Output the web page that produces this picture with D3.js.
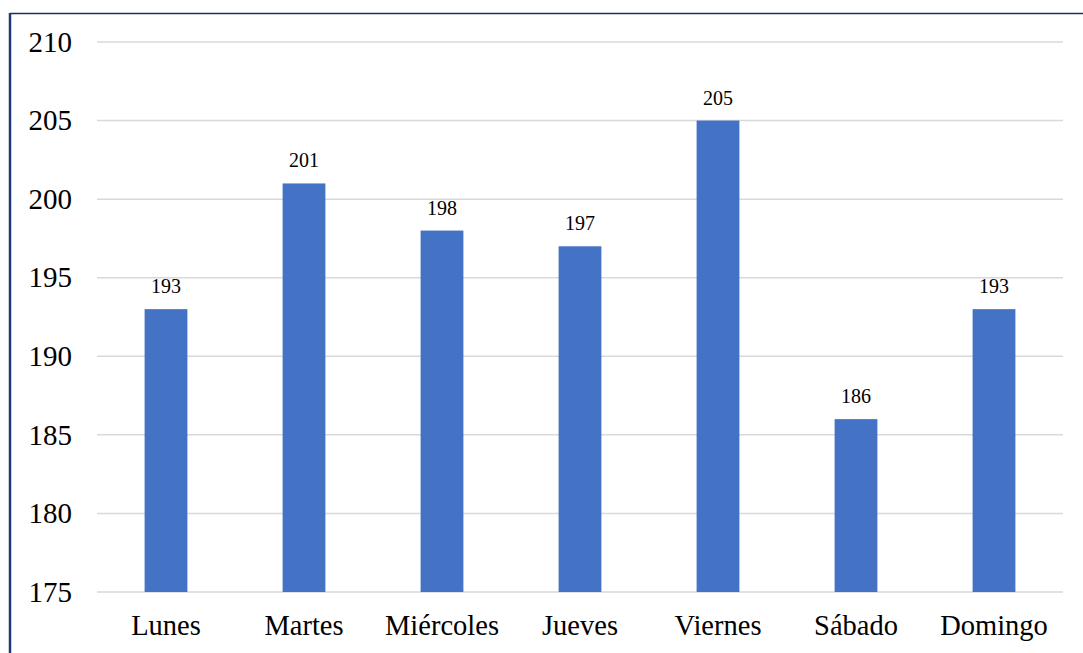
<!DOCTYPE html>
<html>
<head>
<meta charset="utf-8">
<script src="https://cdn.jsdelivr.net/npm/d3@7"></script>
<style>
  html, body { margin: 0; padding: 0; background: #ffffff; }
  svg { display: block; }
</style>
</head>
<body>
<svg id="chart" width="1083" height="653"></svg>
<script>
// Daily totals per weekday
const days = ["Lunes", "Martes", "Miércoles", "Jueves", "Viernes", "Sábado", "Domingo"];
const totals = [193, 201, 198, 197, 205, 186, 193];
const yTicks = [175, 180, 185, 190, 195, 200, 205, 210];

const W = 1083, H = 653;
const plot = { left: 97, right: 1063, top: 42, bottom: 592 };
const serif = "'Liberation Serif', 'Times New Roman', serif";

const svg = d3.select("#chart");

// Outer frame (only top and left edges fall inside the view)
svg.append("line")
  .attr("x1", 10).attr("x2", W).attr("y1", 13.5).attr("y2", 13.5)
  .attr("stroke", "#1f2d5c").attr("stroke-width", 1.5);
svg.append("line")
  .attr("x1", 10).attr("x2", 10).attr("y1", 13).attr("y2", H)
  .attr("stroke", "#1f3a78").attr("stroke-width", 2.5);

const x = d3.scaleBand()
  .domain(days)
  .range([plot.left, plot.right])
  .paddingInner(0.69)
  .paddingOuter(0.345);

const y = d3.scaleLinear()
  .domain([175, 210])
  .range([plot.bottom, plot.top]);

// Horizontal gridlines
svg.append("g")
  .selectAll("line")
  .data(yTicks)
  .join("line")
  .attr("x1", plot.left).attr("x2", plot.right)
  .attr("y1", d => y(d)).attr("y2", d => y(d))
  .attr("stroke", "#d9d9d9").attr("stroke-width", 1.5);

// Y axis labels
const yAxis = d3.axisLeft(y).tickValues(yTicks).tickSize(0).tickPadding(25);
svg.append("g")
  .attr("transform", `translate(${plot.left},0)`)
  .call(yAxis)
  .call(g => g.select(".domain").remove())
  .call(g => g.selectAll("text")
    .style("font-family", serif)
    .attr("font-size", 29)
    .attr("fill", "#000"));

// Bars
svg.append("g")
  .selectAll("rect")
  .data(days)
  .join("rect")
  .attr("x", d => x(d))
  .attr("width", x.bandwidth())
  .attr("y", (d, i) => y(totals[i]))
  .attr("height", (d, i) => y(175) - y(totals[i]))
  .attr("fill", "#4472c4");

// Value labels above bars
svg.append("g")
  .selectAll("text")
  .data(days)
  .join("text")
  .attr("x", d => x(d) + x.bandwidth() / 2)
  .attr("y", (d, i) => y(totals[i]) - 16)
  .attr("text-anchor", "middle")
  .style("font-family", serif)
  .attr("font-size", 20)
  .attr("fill", "#000")
  .text((d, i) => totals[i]);

// Category axis labels
const xAxis = d3.axisBottom(x).tickSize(0).tickPadding(0);
svg.append("g")
  .attr("transform", `translate(0,${plot.bottom})`)
  .call(xAxis)
  .call(g => g.select(".domain").remove())
  .call(g => g.selectAll("text")
    .attr("dy", null)
    .attr("y", 43)
    .style("font-family", serif)
    .attr("font-size", 28.5)
    .attr("fill", "#000"));
</script>
</body>
</html>
